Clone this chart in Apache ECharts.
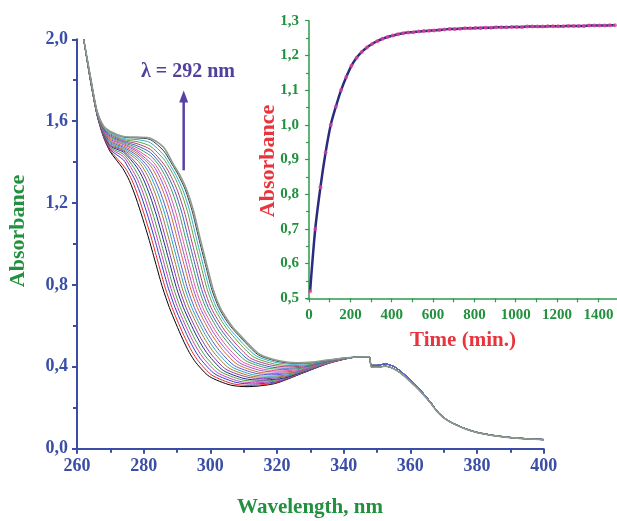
<!DOCTYPE html>
<html><head><meta charset="utf-8">
<script src="https://cdn.jsdelivr.net/npm/echarts@6/dist/echarts.min.js"></script>
<style>html,body{margin:0;padding:0;background:#fff}#c{width:617px;height:521px}</style>
</head><body><div id="c"></div>
<script>
// ---- Main chart: absorption spectra (wavelength nm, absorbance) ----
const curve00=[[262,2],[264,1.8],[266,1.63],[268,1.52],[270,1.45],[273.7,1.37],[275.7,1.31],[277.7,1.225],[279.7,1.125],[281.7,1.017],[283.7,0.9],[285.7,0.785],[287.7,0.69],[289.7,0.61],[291.7,0.535],[293.7,0.47],[295.7,0.42],[299.7,0.353],[306,0.311],[311,0.303],[319.3,0.318],[327.5,0.368],[335.8,0.419],[344,0.448]];
const curve01=[[262,2],[264,1.801],[266,1.631],[268,1.523],[270,1.456],[274.5,1.371],[276.5,1.311],[278.5,1.227],[280.5,1.127],[282.5,1.018],[284.5,0.9],[286.5,0.784],[288.5,0.69],[290.5,0.611],[292.5,0.538],[294.5,0.475],[296.5,0.426],[300.5,0.359],[306.8,0.317],[311.8,0.309],[319.9,0.323],[327.9,0.372],[336.2,0.42],[344,0.448]];
const curve02=[[262,2],[264,1.802],[266,1.632],[268,1.526],[270,1.461],[274,1.41],[275.4,1.372],[277.4,1.313],[279.4,1.229],[281.4,1.129],[283.4,1.018],[285.4,0.9],[287.4,0.784],[289.4,0.69],[291.4,0.613],[293.4,0.541],[295.4,0.479],[297.4,0.431],[301.4,0.365],[307.7,0.324],[312.7,0.316],[320.5,0.329],[328.4,0.375],[336.2,0.422],[344,0.448]];
const curve03=[[262,2],[264,1.803],[266,1.633],[268,1.529],[270,1.467],[274,1.426],[276.2,1.373],[278.2,1.314],[280.2,1.232],[282.2,1.132],[284.2,1.019],[286.2,0.9],[288.2,0.783],[290.2,0.69],[292.2,0.614],[294.2,0.544],[296.2,0.484],[298.2,0.437],[302.2,0.371],[308.5,0.33],[313.5,0.322],[321.1,0.335],[328.8,0.379],[336.4,0.423],[344,0.448]];
const curve04=[[262,2],[264,1.804],[266,1.634],[268,1.532],[270,1.472],[274,1.438],[277,1.374],[279,1.316],[281,1.234],[283,1.134],[285,1.02],[287,0.9],[289,0.783],[291,0.69],[293,0.616],[295,0.547],[297,0.489],[299,0.442],[303,0.377],[309.3,0.337],[314.3,0.329],[321.7,0.341],[329.2,0.383],[336.6,0.424],[344,0.448]];
const curve05=[[262,2],[264,1.806],[266,1.636],[268,1.535],[270,1.478],[274,1.448],[277.9,1.376],[279.9,1.317],[281.9,1.236],[283.9,1.136],[285.9,1.021],[287.9,0.9],[289.9,0.782],[291.9,0.69],[293.9,0.617],[295.9,0.55],[297.9,0.493],[299.9,0.448],[303.9,0.382],[310.1,0.343],[315.1,0.335],[322.3,0.346],[329.6,0.386],[336.8,0.425],[344,0.448]];
const curve06=[[262,2],[264,1.807],[266,1.637],[268,1.538],[270,1.483],[274,1.455],[278.7,1.377],[280.7,1.318],[282.7,1.238],[284.7,1.138],[286.7,1.021],[288.7,0.9],[290.7,0.782],[292.7,0.69],[294.7,0.618],[296.7,0.553],[298.7,0.498],[300.7,0.453],[304.7,0.388],[311,0.35],[316,0.342],[323,0.353],[330,0.39],[337,0.427],[344,0.448]];
const curve07=[[262,2],[264,1.808],[266,1.638],[268,1.541],[270,1.489],[274,1.46],[278,1.41],[279.6,1.378],[281.6,1.32],[283.6,1.24],[285.6,1.14],[287.6,1.022],[289.6,0.9],[291.6,0.781],[293.6,0.69],[295.6,0.62],[297.6,0.556],[299.6,0.503],[301.6,0.459],[305.6,0.394],[311.8,0.356],[316.8,0.348],[323.6,0.358],[330.4,0.393],[337.2,0.428],[344,0.448]];
const curve08=[[262,2],[264,1.809],[266,1.639],[268,1.544],[270,1.494],[274,1.466],[278,1.422],[280.4,1.379],[282.4,1.321],[284.4,1.243],[286.4,1.143],[288.4,1.023],[290.4,0.9],[292.4,0.781],[294.4,0.69],[296.4,0.621],[298.4,0.559],[300.4,0.507],[302.4,0.464],[306.4,0.4],[312.6,0.362],[317.6,0.354],[324.2,0.363],[330.8,0.396],[337.4,0.429],[344,0.448]];
const curve09=[[262,2],[264,1.81],[266,1.64],[268,1.547],[270,1.5],[274,1.472],[278,1.433],[281.2,1.38],[283.2,1.322],[285.2,1.245],[287.2,1.145],[289.2,1.023],[291.2,0.9],[293.2,0.78],[295.2,0.69],[297.2,0.622],[299.2,0.562],[301.2,0.512],[303.2,0.47],[307.2,0.406],[313.4,0.369],[318.4,0.361],[324.8,0.37],[331.2,0.4],[337.6,0.431],[344,0.448]];
const curve10=[[262,2],[264,1.811],[266,1.641],[268,1.55],[270,1.505],[274,1.478],[278,1.443],[282.1,1.381],[284.1,1.324],[286.1,1.247],[288.1,1.147],[290.1,1.024],[292.1,0.9],[294.1,0.78],[296.1,0.69],[298.1,0.624],[300.1,0.565],[302.1,0.517],[304.1,0.475],[308.1,0.412],[314.3,0.375],[319.3,0.367],[325.5,0.375],[331.7,0.404],[337.8,0.432],[344,0.448]];
const curve11=[[262,2],[264,1.812],[266,1.642],[268,1.553],[270,1.511],[274,1.485],[278,1.452],[282.9,1.382],[284.9,1.325],[286.9,1.249],[288.9,1.149],[290.9,1.025],[292.9,0.9],[294.9,0.779],[296.9,0.69],[298.9,0.625],[300.9,0.568],[302.9,0.521],[304.9,0.481],[308.9,0.418],[315.1,0.382],[320.1,0.374],[326.1,0.381],[332.1,0.407],[338,0.433],[344,0.448]];
const curve12=[[262,2],[264,1.813],[266,1.643],[268,1.556],[270,1.516],[274,1.49],[278,1.46],[282,1.415],[283.7,1.383],[285.7,1.327],[287.7,1.251],[289.7,1.151],[291.7,1.026],[293.7,0.9],[295.7,0.778],[297.7,0.69],[299.7,0.627],[301.7,0.571],[303.7,0.526],[305.7,0.486],[309.7,0.424],[315.9,0.388],[320.9,0.38],[326.7,0.387],[332.5,0.411],[338.3,0.434],[344,0.448]];
const curve13=[[262,2],[264,1.814],[266,1.644],[268,1.559],[270,1.522],[274,1.495],[278,1.47],[282,1.432],[284.6,1.384],[286.6,1.328],[288.6,1.254],[290.6,1.154],[292.6,1.026],[294.6,0.9],[296.6,0.778],[298.6,0.69],[300.6,0.628],[302.6,0.574],[304.6,0.531],[306.6,0.492],[310.6,0.43],[316.7,0.395],[321.7,0.387],[327.3,0.393],[332.9,0.415],[338.4,0.436],[344,0.448]];
const curve14=[[262,2],[264,1.815],[266,1.645],[268,1.562],[270,1.527],[274,1.5],[278,1.48],[282,1.447],[285.4,1.385],[287.4,1.329],[289.4,1.256],[291.4,1.156],[293.4,1.027],[295.4,0.9],[297.4,0.777],[299.4,0.69],[301.4,0.629],[303.4,0.577],[305.4,0.535],[307.4,0.497],[311.4,0.435],[317.6,0.401],[322.6,0.393],[327.9,0.399],[333.3,0.418],[338.7,0.437],[344,0.448]];
const curve15=[[262,2],[264,1.817],[266,1.647],[268,1.565],[270,1.533],[274,1.505],[278,1.49],[282,1.462],[286.2,1.387],[288.2,1.331],[290.2,1.258],[292.2,1.158],[294.2,1.028],[296.2,0.9],[298.2,0.777],[300.2,0.69],[302.2,0.631],[304.2,0.58],[306.2,0.54],[308.2,0.503],[312.2,0.441],[318.4,0.408],[323.4,0.4],[328.6,0.405],[333.7,0.422],[338.9,0.438],[344,0.448]];
const curve16=[[262,2],[264,1.818],[266,1.648],[268,1.568],[270,1.538],[274,1.51],[278,1.5],[282,1.478],[286,1.415],[287.1,1.388],[289.1,1.332],[291.1,1.26],[293.1,1.16],[295.1,1.028],[297.1,0.9],[299.1,0.776],[301.1,0.69],[303.1,0.632],[305.1,0.583],[307.1,0.545],[309.1,0.508],[313.1,0.447],[319.2,0.414],[324.2,0.406],[329.2,0.41],[334.1,0.425],[339.1,0.44],[344,0.448]];
const curve17=[[262,2],[264,1.819],[266,1.649],[268,1.571],[270,1.543],[274,1.515],[278,1.51],[282,1.495],[286,1.435],[287.8,1.389],[289.8,1.333],[291.8,1.262],[293.8,1.162],[295.8,1.029],[297.8,0.9],[299.8,0.776],[301.8,0.69],[303.8,0.633],[305.8,0.586],[307.8,0.549],[309.8,0.513],[313.8,0.453],[320,0.42],[325,0.412],[329.8,0.416],[334.5,0.428],[339.3,0.441],[344,0.448]];
const curve18=[[262,2],[264,1.82],[266,1.65],[268,1.574],[270,1.548],[274,1.522],[278,1.518],[282,1.51],[286,1.455],[288.5,1.39],[290.5,1.334],[292.5,1.264],[294.5,1.164],[296.5,1.03],[298.5,0.9],[300.5,0.775],[302.5,0.69],[304.5,0.634],[306.5,0.589],[308.5,0.553],[310.5,0.518],[314.5,0.457],[320.6,0.425],[325.6,0.417],[330.2,0.42],[334.8,0.431],[339.4,0.442],[344,0.448]];
const curve19=[[262,2],[264,1.82],[266,1.65],[268,1.575],[270,1.55],[274,1.525],[278,1.522],[282,1.517],[286,1.472],[288.9,1.39],[290.9,1.335],[292.9,1.265],[294.9,1.165],[296.9,1.03],[298.9,0.9],[300.9,0.775],[302.9,0.69],[304.9,0.635],[306.9,0.59],[308.9,0.555],[310.9,0.52],[314.9,0.46],[321,0.428],[326,0.42],[330.5,0.423],[335,0.433],[339.5,0.442],[344,0.448]];
// long-wavelength part (curves nearly coincide): early and late spectra
const tailEarly=[[347.6,0.449],[348.3,0.407],[350,0.407],[352.5,0.414],[355,0.402],[357,0.38],[360,0.337],[363,0.287],[366,0.229],[368,0.185],[370,0.153],[372,0.131],[376,0.101],[380,0.08],[385,0.065],[390,0.055],[395,0.049],[400,0.045]];
const tailLate=[[347.6,0.449],[348.3,0.4],[350,0.398],[352.5,0.403],[355,0.391],[357,0.37],[360,0.328],[363,0.28],[366,0.224],[368,0.182],[370,0.151],[372,0.13],[376,0.1],[380,0.079],[385,0.064],[390,0.054],[395,0.048],[400,0.044]];
const curves=[curve00,curve01,curve02,curve03,curve04,curve05,curve06,curve07,curve08,curve09,curve10,curve11,curve12,curve13,curve14,curve15,curve16,curve17,curve18,curve19];
const curveColors=['#000000','#e8262b','#2b3fc4','#c43fb5','#4d9a3a','#1f2a8c','#8a3aa8','#a3782a','#2aa3b5','#5a5ad0','#d06a2a','#9b4fd6','#e0589a','#3a9a5a','#3f5fbf','#b0407a','#5fa040','#2fb0c8','#3a3a3a','#8f9c8f'];

// ---- Inset: kinetics at 292 nm ----
const timeMin=[5,30,55,80,105,130,155,180,205,230,255,280,305,330,355,380,405,430,455,480,505,530,555,580,605,630,655,680,705,730,755,780,805,830,855,880,905,930,955,980,1005,1030,1055,1080,1105,1130,1155,1180,1205,1230,1255,1280,1305,1330,1355,1380,1405,1430,1455,1480];
const absorb292=[0.52,0.70,0.82,0.92,1.00,1.053,1.10,1.138,1.17,1.193,1.21,1.223,1.233,1.241,1.248,1.253,1.257,1.261,1.264,1.266,1.267,1.269,1.27,1.271,1.272,1.273,1.275,1.276,1.276,1.277,1.278,1.278,1.279,1.279,1.28,1.28,1.281,1.281,1.281,1.282,1.282,1.282,1.283,1.283,1.283,1.283,1.284,1.284,1.284,1.284,1.285,1.285,1.285,1.285,1.286,1.286,1.286,1.286,1.287,1.287];
const insetXLabels=[0,200,400,600,800,1000,1200,1400];
const insetXTicks=[0,100,200,300,400,500,600,700,800,900,1000,1100,1200,1300,1400];

const SERIF='"Liberation Serif","Times New Roman",serif';
const BLUE='#3b4ea6', GREEN='#22903f', RED='#e8343c', PURPLE='#51409c';
const comma=v=>v.toFixed(1).replace('.',',');

const series=[];
curves.forEach((c,i)=>{
  series.push({type:'line',xAxisIndex:0,yAxisIndex:0,data:c.concat(i<10?tailEarly:tailLate),
    showSymbol:false,symbol:'none',smooth:0.25,silent:true,
    lineStyle:{color:curveColors[i],width:i===19?1.6:1},z:2});
});
const kin=timeMin.map((t,i)=>[t,absorb292[i]]);
series.push({type:'line',xAxisIndex:1,yAxisIndex:1,data:kin,symbol:'none',smooth:0.3,
  lineStyle:{color:'#2b2b80',width:2.5},z:3,silent:true});
series.push({type:'scatter',xAxisIndex:1,yAxisIndex:1,data:kin,symbolSize:4,
  itemStyle:{color:'#e8409a'},z:4,silent:true});

const chart=echarts.init(document.getElementById('c'),null,{renderer:'canvas'});
const mainAxisCommon={
  axisLine:{show:true,lineStyle:{color:BLUE,width:2}},
  axisTick:{show:true,length:5,lineStyle:{color:BLUE,width:2}},
  minorTick:{show:true,splitNumber:2,length:4,lineStyle:{color:BLUE,width:2}},
  splitLine:{show:false},
  axisLabel:{color:BLUE,fontFamily:SERIF,fontWeight:'bold',fontSize:18,margin:9}
};
const insetAxisCommon={
  axisLine:{show:true,lineStyle:{color:'#2e9a4e',width:1.5}},
  axisTick:{show:true,length:4,lineStyle:{color:'#2e9a4e',width:1.2}},
  splitLine:{show:false},
  axisLabel:{color:GREEN,fontFamily:SERIF,fontWeight:'bold',fontSize:15,margin:8}
};
chart.setOption({
  animation:false,
  backgroundColor:'#ffffff',
  grid:[{left:77,top:39.3,width:466.7,height:409.4},{left:307,top:20.7,width:310,height:277.6}],
  xAxis:[
    Object.assign({type:'value',gridIndex:0,min:260,max:400,interval:20},mainAxisCommon),
    Object.assign({},insetAxisCommon,{type:'value',gridIndex:1,min:-10,max:1490,
      axisLabel:Object.assign({},insetAxisCommon.axisLabel,{customValues:insetXLabels,margin:9,formatter:v=>String(v)}),
      axisTick:Object.assign({},insetAxisCommon.axisTick,{customValues:insetXTicks})})
  ],
  yAxis:[
    Object.assign({},mainAxisCommon,{type:'value',gridIndex:0,min:0,max:2,interval:0.4,
      axisLabel:Object.assign({},mainAxisCommon.axisLabel,{formatter:comma})}),
    Object.assign({},insetAxisCommon,{type:'value',gridIndex:1,min:0.5,max:1.3,interval:0.1,
      minorTick:{show:true,splitNumber:2,length:3,lineStyle:{color:'#2e9a4e',width:1.2}},
      axisLabel:Object.assign({},insetAxisCommon.axisLabel,{formatter:comma})})
  ],
  series:series
});

const pTop=chart.convertToPixel({gridIndex:0},[292,1.75]);
const pBot=chart.convertToPixel({gridIndex:0},[292,1.36]);
chart.setOption({graphic:[
  {type:'line',shape:{x1:pBot[0],y1:pBot[1],x2:pTop[0],y2:pTop[1]+10},style:{stroke:'#5a3fa5',lineWidth:2.5}},
  {type:'polygon',shape:{points:[[pTop[0],pTop[1]],[pTop[0]-4.5,pTop[1]+12],[pTop[0]+4.5,pTop[1]+12]]},style:{fill:'#5a3fa5'}},
  {type:'text',x:188,y:72,style:{text:'λ = 292 nm',fill:PURPLE,font:'bold 20px '+SERIF,textAlign:'center',textVerticalAlign:'middle'}},
  {type:'text',x:18,y:231,rotation:Math.PI/2,style:{text:'Absorbance',fill:GREEN,font:'bold 22px '+SERIF,textAlign:'center',textVerticalAlign:'middle'}},
  {type:'text',x:310,y:508,style:{text:'Wavelength, nm',fill:GREEN,font:'bold 21px '+SERIF,textAlign:'center',textVerticalAlign:'middle'}},
  {type:'text',x:268,y:161,rotation:Math.PI/2,style:{text:'Absorbance',fill:RED,font:'bold 22px '+SERIF,textAlign:'center',textVerticalAlign:'middle'}},
  {type:'text',x:463,y:341,style:{text:'Time (min.)',fill:RED,font:'bold 21px '+SERIF,textAlign:'center',textVerticalAlign:'middle'}}
]});
</script></body></html>
